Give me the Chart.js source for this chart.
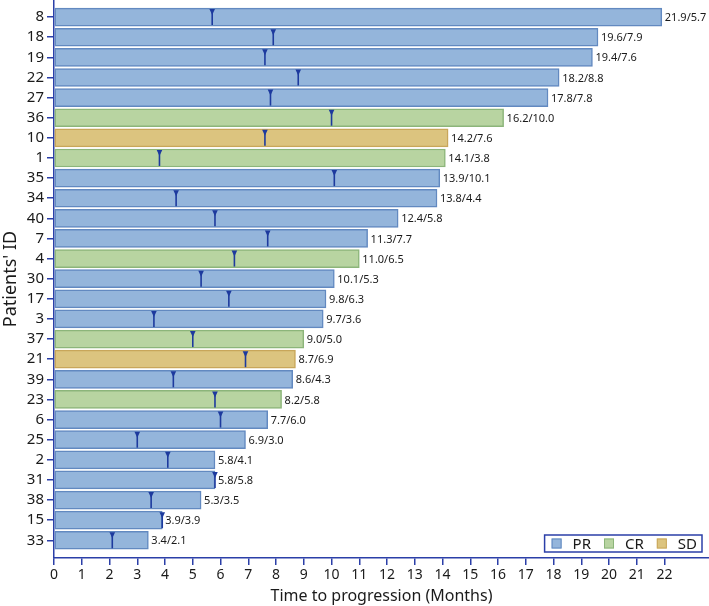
<!DOCTYPE html>
<html>
<head>
<meta charset="utf-8">
<script src="https://cdn.jsdelivr.net/npm/chart.js@4"></script>
<style>
  html, body { margin: 0; padding: 0; background: #fff; }
  #wrap { width: 709px; height: 606px; }
</style>
</head>
<body>
<div id="wrap"><canvas id="swim"></canvas></div>
<script>
// patients, top to bottom
var patientIds = ['8','18','19','22','27','36','10','1','35','34','40','7','4','30','17','3','37','21','39','23','6','25','2','31','38','15','33'];
var timeToProgression = [21.9,19.6,19.4,18.2,17.8,16.2,14.2,14.1,13.9,13.8,12.4,11.3,11.0,10.1,9.8,9.7,9.0,8.7,8.6,8.2,7.7,6.9,5.8,5.8,5.3,3.9,3.4];
var markerTime = [5.7,7.9,7.6,8.8,7.8,10.0,7.6,3.8,10.1,4.4,5.8,7.7,6.5,5.3,6.3,3.6,5.0,6.9,4.3,5.8,6.0,3.0,4.1,5.8,3.5,3.9,2.1];
var response = ['PR','PR','PR','PR','PR','CR','SD','CR','PR','PR','PR','PR','CR','PR','PR','PR','CR','SD','PR','CR','PR','PR','PR','PR','PR','PR','PR'];
var xTicks = [0,1,2,3,4,5,6,7,8,9,10,11,12,13,14,15,16,17,18,19,20,21,22];

var fillColors = { PR: '#94b5db', CR: '#b8d4a1', SD: '#dcc47f' };
var edgeColors = { PR: '#6289c0', CR: '#8cb57a', SD: '#c8a65a' };
var axisColor = '#2b3fa8';
var markerColor = '#1d3a9e';
var fontFam = '"Noto Sans", "DejaVu Sans", sans-serif';

var barData = timeToProgression.map(function(v, i){ return { x: v, y: i }; });

// markers + end labels, positioned from the bars and the x scale
var markerPlugin = {
  id: 'markers',
  afterDatasetsDraw: function(chart) {
    var ctx = chart.ctx;
    var xs = chart.scales.x;
    var bars = chart.getDatasetMeta(0).data;
    ctx.save();
    bars.forEach(function(bar, i) {
      var top = bar.y - bar.height / 2;
      var bot = bar.y + bar.height / 2;
      var mx = xs.getPixelForValue(markerTime[i]);
      ctx.strokeStyle = markerColor;
      ctx.lineWidth = 1.6;
      ctx.beginPath();
      ctx.moveTo(mx, top + 2);
      ctx.lineTo(mx, bot - 1);
      ctx.stroke();
      ctx.fillStyle = markerColor;
      ctx.beginPath();
      ctx.moveTo(mx - 2.8, top + 1);
      ctx.lineTo(mx + 2.8, top + 1);
      ctx.lineTo(mx, top + 7);
      ctx.closePath();
      ctx.fill();

      ctx.fillStyle = '#1a1a1a';
      ctx.font = '11px ' + fontFam;
      ctx.textBaseline = 'middle';
      ctx.textAlign = 'left';
      ctx.fillText(timeToProgression[i].toFixed(1) + '/' + markerTime[i].toFixed(1), bar.x + 3, bar.y + 1);
    });
    ctx.restore();
  }
};

// boxed legend inside the plot, bottom right
var legendBox = {
  id: 'legendBox',
  afterDraw: function(chart) {
    var ctx = chart.ctx;
    var area = chart.chartArea;
    var items = ['PR', 'CR', 'SD'];
    ctx.save();
    ctx.font = '15px ' + fontFam;
    var sq = 10, gapTxt = 11, gapItem = 13, padL = 7, padR = 5;
    var w = padL + padR;
    items.forEach(function(it, k) {
      w += sq + gapTxt + ctx.measureText(it).width + (k < items.length - 1 ? gapItem : 0);
    });
    var h = 17;
    var right = area.right - 7;
    var bottom = area.bottom - 6;
    var left = right - w, top = bottom - h;
    ctx.fillStyle = '#fff';
    ctx.fillRect(left, top, w, h);
    ctx.strokeStyle = axisColor;
    ctx.lineWidth = 1.5;
    ctx.strokeRect(left, top, w, h);
    var x = left + padL;
    var cy = top + h / 2;
    items.forEach(function(it) {
      ctx.fillStyle = fillColors[it];
      ctx.fillRect(x, cy - sq / 2, sq, sq);
      ctx.strokeStyle = edgeColors[it];
      ctx.lineWidth = 1;
      ctx.strokeRect(x + 0.5, cy - sq / 2 + 0.5, sq - 1, sq - 1);
      x += sq + gapTxt;
      ctx.fillStyle = '#1a1a1a';
      ctx.textBaseline = 'middle';
      ctx.textAlign = 'left';
      ctx.fillText(it, x, cy + 1);
      x += ctx.measureText(it).width + gapItem;
    });
    ctx.restore();
  }
};

var swimChart = new Chart(document.getElementById('swim'), {
  type: 'bar',
  data: {
    datasets: [{
      label: 'Time to progression',
      data: barData,
      backgroundColor: response.map(function(r){ return fillColors[r]; }),
      borderColor: response.map(function(r){ return edgeColors[r]; }),
      borderWidth: 1.5,
      borderSkipped: false,
      barThickness: 18
    }]
  },
  options: {
    indexAxis: 'y',
    responsive: true,
    maintainAspectRatio: false,
    animation: false,
    layout: { padding: { top: 0, right: 0, bottom: 0, left: 0 } },
    plugins: {
      legend: { display: false },
      tooltip: { enabled: false }
    },
    scales: {
      x: {
        type: 'linear',
        min: 0,
        max: 23.6,
        afterBuildTicks: function(scale) {
          scale.ticks = xTicks.map(function(v){ return { value: v }; });
        },
        afterFit: function(scale) { scale.height = 48; },
        ticks: {
          color: '#1a1a1a',
          font: { family: fontFam, size: 14 },
          padding: 2,
          maxRotation: 0,
          autoSkip: false
        },
        grid: { drawOnChartArea: false, drawTicks: true, tickLength: 7, color: axisColor, lineWidth: 1.5 },
        border: { color: axisColor, width: 1.5 },
        title: {
          display: true,
          text: 'Time to progression (Months)',
          color: '#1a1a1a',
          font: { family: fontFam, size: 16 },
          padding: { top: 0, bottom: 0 }
        }
      },
      y: {
        type: 'linear',
        reverse: true,
        offset: false,
        min: -0.85,
        max: 26.88,
        afterBuildTicks: function(scale) {
          scale.ticks = patientIds.map(function(p, i){ return { value: i }; });
        },
        afterFit: function(scale) {
          scale.width = 54;
          scale.paddingTop = 0;
          scale.paddingBottom = 0;
        },
        ticks: {
          color: '#1a1a1a',
          font: { family: fontFam, size: 15 },
          padding: 3,
          autoSkip: false,
          callback: function(v) { return patientIds[v]; }
        },
        grid: { offset: false, drawOnChartArea: false, drawTicks: true, tickLength: 7, color: axisColor, lineWidth: 1.5 },
        border: { color: axisColor, width: 1.5 },
        title: {
          display: true,
          text: "Patients' ID",
          color: '#1a1a1a',
          font: { family: fontFam, size: 18 },
          padding: { top: 0, bottom: 0 }
        }
      }
    }
  },
  plugins: [markerPlugin, legendBox]
});
</script>
</body>
</html>
